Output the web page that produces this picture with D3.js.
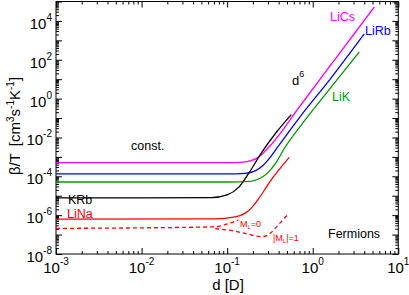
<!DOCTYPE html>
<html>
<head>
<meta charset="utf-8">
<script src="https://cdn.jsdelivr.net/npm/d3@7"></script>
<style>
  body { margin: 0; background: #fff; }
  svg { font-family: "Liberation Sans", Arial, Helvetica, sans-serif; }
</style>
</head>
<body>
<svg id="chart" width="409" height="295"></svg>
<script>
// dipole moment d [D] and beta/T [cm^3 s^-1 K^-1]
const liCsD = [0.001, 0.1, 0.142, 0.186, 0.231, 0.278, 0.336, 0.676, 1.83, 5.24];
const liCsB = [5.05e-4, 5.05e-4, 5.2e-4, 6.2e-4, 9.4e-4, 2.0e-3, 4.9e-3, 0.31, 109, 5.2e4];

const liRbD = [0.001, 0.1, 0.163, 0.212, 0.264, 0.318, 0.394, 0.714, 1.6, 4.0];
const liRbB = [1.34e-4, 1.34e-4, 1.43e-4, 1.9e-4, 3.7e-4, 9.4e-4, 3.45e-3, 0.119, 10.2, 2150];

const liKD = [0.001, 0.1, 0.186, 0.243, 0.302, 0.374, 0.465, 0.714, 1.6, 3.5];
const liKB = [5.1e-5, 5.1e-5, 5.5e-5, 7.9e-5, 1.6e-4, 5.2e-4, 2.7e-3, 0.037, 3.4, 257];

const kRbD = [0.001, 0.065, 0.1, 0.135, 0.176, 0.256, 0.374, 0.561];
const kRbB = [7.7e-6, 7.9e-6, 1.1e-5, 2.6e-5, 1.3e-4, 1.8e-3, 0.018, 0.151];

const liNaD = [0.001, 0.0725, 0.124, 0.163, 0.196, 0.231, 0.318, 0.531];
const liNaB = [6.2e-7, 6.4e-7, 8.1e-7, 1.27e-6, 2.6e-6, 6.6e-6, 5.5e-5, 9.4e-4];

// LiNa partial waves (dashed)
const ml0D = [0.001, 0.0725, 0.0948, 0.135];
const ml0B = [2.08e-7, 2.5e-7, 3.3e-7, 5.5e-7];
const ml1D = [0.0725, 0.103, 0.163, 0.256, 0.318, 0.394, 0.504];
const ml1B = [2.03e-7, 1.7e-7, 1.15e-7, 7.7e-8, 1.15e-7, 3.07e-7, 1e-6];

const xTicks = [1e-3, 1e-2, 1e-1, 1, 10];
const xTickExp = ['-3', '-2', '-1', '0', '1'];
const yTicks = [1e-8, 1e-6, 1e-4, 1e-2, 1, 1e2, 1e4];
const yTickExp = ['-8', '-6', '-4', '-2', '0', '2', '4'];

const margin = { left: 56, right: 398.3, top: 1.5, bottom: 254 };

const svg = d3.select('#chart');

const x = d3.scaleLog().domain([1e-3, 10]).range([margin.left, margin.right]);
const y = d3.scaleLog().domain([1e-8, 1e5]).range([margin.bottom, margin.top]);

const xMinor = d3.range(-3, 1).flatMap(k => d3.range(2, 10).map(i => i * Math.pow(10, k)));
const yMajor = d3.range(-8, 6).map(k => Math.pow(10, k));
const yMinor = d3.range(-8, 5).flatMap(k => d3.range(2, 10).map(i => i * Math.pow(10, k)));

// inward ticks on all four sides
function addAxis(axis, tx, ty) {
    const g = svg.append('g')
        .attr('transform', `translate(${tx},${ty})`)
        .call(axis.tickFormat('').tickSizeOuter(0));
    g.select('.domain').remove();
    g.selectAll('line').attr('stroke', '#000');
}
addAxis(d3.axisBottom(x).tickValues(xTicks).tickSize(-6), 0, margin.bottom);
addAxis(d3.axisBottom(x).tickValues(xMinor).tickSize(-3), 0, margin.bottom);
addAxis(d3.axisTop(x).tickValues(xTicks).tickSize(-6), 0, margin.top);
addAxis(d3.axisTop(x).tickValues(xMinor).tickSize(-3), 0, margin.top);
addAxis(d3.axisLeft(y).tickValues(yMajor).tickSize(-6), margin.left, 0);
addAxis(d3.axisLeft(y).tickValues(yMinor).tickSize(-3), margin.left, 0);
addAxis(d3.axisRight(y).tickValues(yMajor).tickSize(-6), margin.right, 0);
addAxis(d3.axisRight(y).tickValues(yMinor).tickSize(-3), margin.right, 0);

svg.append('rect')
    .attr('x', margin.left).attr('y', margin.top)
    .attr('width', margin.right - margin.left)
    .attr('height', margin.bottom - margin.top)
    .attr('fill', 'none').attr('stroke', '#000');

// tick labels with superscript exponents
svg.selectAll('.xlab')
    .data(xTicks)
    .join('text')
    .attr('class', 'xlab')
    .attr('x', d => x(d))
    .attr('y', 273)
    .attr('text-anchor', 'middle')
    .attr('font-size', 15)
    .each(function (d, i) {
        const t = d3.select(this);
        t.append('tspan').text('10');
        t.append('tspan').attr('dy', -8).attr('font-size', 10).text(xTickExp[i]);
    });

svg.selectAll('.ylab')
    .data(yTicks)
    .join('text')
    .attr('class', 'ylab')
    .attr('x', 52)
    .attr('y', d => y(d) + 8)
    .attr('text-anchor', 'end')
    .attr('font-size', 15)
    .each(function (d, i) {
        const t = d3.select(this);
        t.append('tspan').text('10');
        t.append('tspan').attr('dy', -8).attr('font-size', 10).text(yTickExp[i]);
    });

svg.append('text')
    .attr('x', 228).attr('y', 290)
    .attr('text-anchor', 'middle')
    .attr('font-size', 15)
    .text('d [D]');

const yTitle = svg.append('text')
    .attr('transform', 'translate(20,126) rotate(-90)')
    .attr('text-anchor', 'middle')
    .attr('font-size', 15);
yTitle.append('tspan').text('β/T');
yTitle.append('tspan').attr('dx', 7).text('[cm');
yTitle.append('tspan').attr('dy', -6).attr('font-size', 10).text('3');
yTitle.append('tspan').attr('dy', 6).text('s');
yTitle.append('tspan').attr('dy', -6).attr('font-size', 10).text('-1');
yTitle.append('tspan').attr('dy', 6).text('K');
yTitle.append('tspan').attr('dy', -6).attr('font-size', 10).text('-1');
yTitle.append('tspan').attr('dy', 6).text(']');

// curves
const line = d3.line()
    .x(d => x(d[0]))
    .y(d => y(d[1]))
    .curve(d3.curveMonotoneX);

const series = [
    { d: liCsD, b: liCsB, color: '#ff00ff' },
    { d: liRbD, b: liRbB, color: '#0000ff' },
    { d: liKD, b: liKB, color: '#009a00' },
    { d: kRbD, b: kRbB, color: '#000000' },
    { d: liNaD, b: liNaB, color: '#ff0000' },
    { d: ml0D, b: ml0B, color: '#ff0000', dash: '4,3' },
    { d: ml1D, b: ml1B, color: '#ff0000', dash: '4,3' }
];

svg.append('g')
    .selectAll('path')
    .data(series)
    .join('path')
    .attr('d', s => line(d3.zip(s.d, s.b)))
    .attr('fill', 'none')
    .attr('stroke', s => s.color)
    .attr('stroke-width', 1.3)
    .attr('stroke-dasharray', s => s.dash || null);

// annotations
const notes = [
    { t: 'LiCs', x: 330, y: 21, c: '#ff00ff' },
    { t: 'LiRb', x: 365, y: 35, c: '#0000ff' },
    { t: 'LiK', x: 332, y: 101, c: '#009a00' },
    { t: 'const.', x: 131, y: 150, c: '#000' },
    { t: 'KRb', x: 68, y: 204, c: '#000' },
    { t: 'LiNa', x: 67, y: 218, c: '#ff0000' },
    { t: 'Fermions', x: 328, y: 238, c: '#000' }
];
svg.selectAll('.note')
    .data(notes)
    .join('text')
    .attr('class', 'note')
    .attr('x', d => d.x).attr('y', d => d.y)
    .attr('fill', d => d.c)
    .attr('font-size', 12.5)
    .text(d => d.t);

const d6 = svg.append('text').attr('x', 292).attr('y', 85).attr('font-size', 13);
d6.append('tspan').text('d');
d6.append('tspan').attr('dy', -8).attr('font-size', 9).text('6');

const ml0 = svg.append('text').attr('x', 240).attr('y', 227).attr('font-size', 9).attr('fill', '#ff0000');
ml0.append('tspan').text('M');
ml0.append('tspan').attr('dy', 2).attr('font-size', 6).text('L');
ml0.append('tspan').attr('dy', -2).text('=0');

const ml1 = svg.append('text').attr('x', 273).attr('y', 241).attr('font-size', 9).attr('fill', '#ff0000');
ml1.append('tspan').text('|M');
ml1.append('tspan').attr('dy', 2).attr('font-size', 6).text('L');
ml1.append('tspan').attr('dy', -2).text('|=1');
</script>
</body>
</html>
